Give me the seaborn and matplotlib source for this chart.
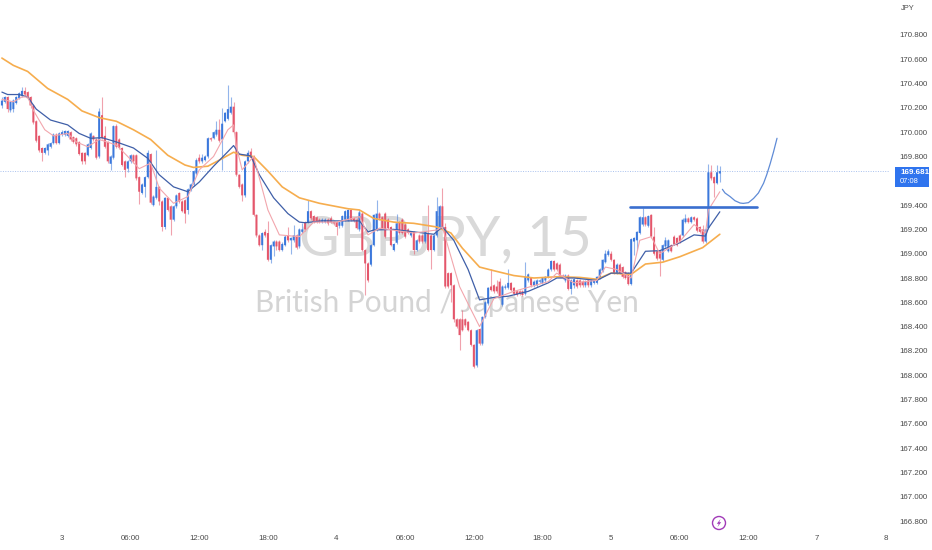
import numpy as np
import pandas as pd
import seaborn as sns
import matplotlib.pyplot as plt
from matplotlib.patches import Ellipse, Polygon, Rectangle

# 15 minute candles
opens = [170.22,170.25,170.29,170.18,170.19,170.24,170.28,170.30,170.34,170.33,
         170.29,170.22,170.09,169.97,169.87,169.83,169.85,169.88,169.91,169.98,
         169.91,169.98,169.98,169.97,170.00,169.96,169.95,169.92,169.83,169.83,
         169.81,169.87,169.97,169.94,169.80,170.14,169.97,169.92,169.74,169.79,
         170.05,169.94,169.87,169.76,169.70,169.76,169.81,169.81,169.63,169.50,
         169.55,169.63,169.82,169.40,169.46,169.55,169.43,169.22,169.46,169.39,
         169.28,169.39,169.50,169.43,169.44,169.36,169.53,169.57,169.66,169.79,
         169.76,169.77,169.80,169.95,169.95,169.98,170.02,169.94,170.09,170.11,
         170.16,170.21,170.00,169.65,169.57,169.48,169.76,169.84,169.80,169.32,
         169.15,169.07,169.18,169.17,168.95,169.06,169.10,169.10,169.03,169.07,
         169.15,169.11,169.11,169.15,169.06,169.18,169.26,169.26,169.35,169.31,
         169.30,169.28,169.26,169.26,169.28,169.29,169.26,169.26,169.23,169.23,
         169.28,169.28,169.36,169.29,169.28,169.20,169.33,169.03,168.92,168.91,
         169.07,169.20,169.33,169.30,169.33,169.28,169.22,169.03,169.09,169.26,
         169.28,169.24,169.20,169.15,169.18,169.03,169.15,169.15,169.10,169.17,
         169.15,169.03,169.15,169.22,169.39,169.22,168.84,168.84,168.74,168.46,
         168.46,168.46,168.46,168.44,168.37,168.25,168.08,168.38,168.26,168.48,
         168.59,168.73,168.74,168.73,168.77,168.58,168.72,168.72,168.76,168.72,
         168.69,168.69,168.69,168.67,168.78,168.80,168.74,168.74,168.77,168.76,
         168.78,168.81,168.87,168.94,168.92,168.91,168.82,168.78,168.82,168.71,
         168.74,168.78,168.78,168.77,168.74,168.78,168.74,168.76,168.76,168.80,
         168.86,168.93,168.99,169.00,168.95,168.84,168.91,168.89,168.85,168.84,
         168.75,169.10,169.11,169.17,169.24,169.30,169.23,169.32,169.14,169.02,
         169.02,168.95,169.06,169.02,169.07,169.14,169.13,169.15,169.15,169.26,
         169.29,169.26,169.30,169.29,169.22,169.20,169.10,169.21,169.67,169.63,169.58,169.66]
closes = [170.26,170.29,170.19,170.25,170.26,170.29,170.32,170.34,170.31,170.28,
          170.22,170.08,169.93,169.85,169.83,169.87,169.90,169.91,169.98,169.91,
          169.99,170.00,170.01,170.01,169.94,169.92,169.90,169.82,169.76,169.76,
          169.90,169.99,169.94,169.79,170.17,169.95,169.88,169.76,169.80,170.05,
          169.88,169.87,169.73,169.69,169.76,169.81,169.76,169.62,169.51,169.57,
          169.63,169.83,169.42,169.47,169.55,169.43,169.22,169.46,169.36,169.28,
          169.39,169.48,169.43,169.35,169.33,169.53,169.57,169.68,169.77,169.76,
          169.79,169.80,169.95,169.94,170.00,170.02,169.93,170.07,170.16,170.19,
          170.21,170.00,169.65,169.55,169.48,169.76,169.83,169.79,169.32,169.15,
          169.07,169.17,169.15,168.95,169.07,169.10,169.06,169.03,169.08,169.14,
          169.11,169.13,169.15,169.05,169.20,169.20,169.20,169.35,169.29,169.26,
          169.26,169.26,169.28,169.28,169.25,169.26,169.25,169.22,169.26,169.31,
          169.35,169.36,169.28,169.27,169.21,169.34,169.03,168.92,168.78,169.07,
          169.32,169.33,169.29,169.21,169.14,169.21,169.07,169.08,169.25,169.17,
          169.17,169.14,169.17,169.18,169.03,169.11,169.10,169.10,169.18,169.03,
          169.03,169.15,169.35,169.39,169.22,168.73,168.73,168.74,168.46,168.40,
          168.33,168.37,168.41,168.37,168.25,168.07,168.37,168.26,168.48,168.60,
          168.72,168.70,168.69,168.69,168.65,168.73,168.73,168.76,168.70,168.67,
          168.66,168.67,168.66,168.81,168.83,168.74,168.77,168.78,168.78,168.80,
          168.81,168.87,168.94,168.87,168.87,168.82,168.80,168.82,168.71,168.78,
          168.79,168.73,168.74,168.74,168.77,168.74,168.78,168.78,168.81,168.87,
          168.95,169.00,169.02,168.95,168.84,168.91,168.84,168.81,168.80,168.75,
          169.12,169.13,169.18,169.30,169.30,169.24,169.31,169.14,169.00,168.96,
          168.96,169.07,169.11,169.11,169.02,169.08,169.07,169.10,169.28,169.29,
          169.26,169.30,169.28,169.19,169.18,169.10,169.20,169.67,169.62,169.58,169.67,169.68]
highs = [170.29,170.30,170.30,170.26,170.27,170.30,170.33,170.37,170.37,170.34,
         170.30,170.23,170.10,169.98,169.88,169.88,169.91,169.92,169.99,169.99,
         170.00,170.02,170.02,170.02,170.01,169.97,169.96,169.93,169.84,169.84,
         169.91,170.00,169.98,169.95,170.20,170.29,170.05,169.93,169.81,170.06,
         170.07,169.95,169.88,169.77,169.77,169.82,169.82,169.82,169.64,169.58,
         169.64,169.85,169.83,169.48,169.85,169.56,169.44,169.47,169.47,169.40,
         169.40,169.49,169.51,169.44,169.45,169.54,169.58,169.69,169.79,169.82,
         169.82,169.81,169.96,169.96,170.01,170.09,170.11,170.20,170.17,170.39,
         170.29,170.25,170.01,169.66,169.58,169.77,169.85,169.87,169.81,169.33,
         169.16,169.18,169.20,169.27,169.08,169.11,169.11,169.11,169.10,169.15,
         169.22,169.14,169.24,169.16,169.21,169.25,169.27,169.44,169.36,169.32,
         169.31,169.29,169.29,169.29,169.29,169.31,169.27,169.27,169.27,169.32,
         169.36,169.37,169.37,169.30,169.29,169.36,169.34,169.04,168.93,169.08,
         169.33,169.44,169.34,169.31,169.34,169.29,169.23,169.09,169.33,169.27,
         169.29,169.25,169.21,169.19,169.19,169.12,169.16,169.16,169.19,169.40,
         169.16,169.16,169.47,169.40,169.54,169.25,168.85,168.85,168.75,168.47,
         168.47,168.54,168.47,168.45,168.38,168.26,168.38,168.39,168.49,168.61,
         168.73,168.87,168.75,168.78,168.80,168.74,168.75,168.87,168.77,168.73,
         168.70,168.70,168.70,168.93,168.84,168.81,168.78,168.79,168.79,168.81,
         168.82,168.88,168.95,168.95,168.93,168.92,168.83,168.83,168.83,168.79,
         168.80,168.79,168.79,168.78,168.78,168.79,168.79,168.79,168.82,168.88,
         168.96,169.03,169.04,169.02,168.96,168.92,168.92,168.90,168.86,168.85,
         169.13,169.14,169.19,169.31,169.38,169.31,169.32,169.33,169.22,169.03,
         169.03,169.08,169.14,169.12,169.08,169.15,169.14,169.16,169.29,169.33,
         169.30,169.31,169.31,169.30,169.23,169.24,169.21,169.74,169.73,169.64,169.73,169.72]
lows = [170.20,170.24,170.17,170.17,170.17,170.23,170.27,170.29,170.30,170.27,
        170.20,170.07,169.92,169.84,169.76,169.82,169.81,169.87,169.90,169.90,
        169.90,169.97,169.97,169.96,169.93,169.91,169.89,169.81,169.74,169.74,
        169.80,169.86,169.93,169.78,169.79,169.94,169.87,169.75,169.69,169.78,
        169.87,169.86,169.72,169.63,169.67,169.75,169.75,169.61,169.41,169.49,
        169.47,169.62,169.41,169.39,169.45,169.40,169.19,169.20,169.35,169.15,
        169.27,169.38,169.42,169.34,169.25,169.33,169.52,169.56,169.65,169.75,
        169.75,169.76,169.79,169.93,169.94,169.97,169.92,169.69,170.08,170.10,
        170.15,169.99,169.64,169.54,169.43,169.47,169.75,169.78,169.31,169.14,
        169.06,169.03,169.14,168.94,168.92,168.98,169.03,169.02,169.02,169.06,
        169.10,169.00,169.10,169.04,169.05,169.17,169.19,169.25,169.28,169.25,
        169.25,169.25,169.25,169.25,169.24,169.25,169.24,169.15,169.21,169.22,
        169.27,169.27,169.27,169.26,169.20,169.19,169.02,168.66,168.77,168.90,
        169.06,169.19,169.28,169.20,169.13,169.20,169.06,169.02,169.08,169.16,
        169.16,169.13,169.16,169.14,169.00,169.02,169.09,169.09,169.09,169.02,
        168.87,169.02,169.14,169.21,169.21,168.72,168.72,168.60,168.44,168.39,
        168.21,168.36,168.40,168.36,168.24,168.06,168.07,168.25,168.25,168.47,
        168.58,168.69,168.68,168.68,168.64,168.57,168.71,168.71,168.69,168.66,
        168.65,168.66,168.65,168.66,168.77,168.73,168.73,168.73,168.76,168.75,
        168.77,168.80,168.86,168.86,168.86,168.81,168.79,168.77,168.70,168.67,
        168.72,168.72,168.73,168.73,168.73,168.73,168.73,168.75,168.75,168.79,
        168.85,168.92,168.98,168.94,168.83,168.83,168.83,168.80,168.79,168.74,
        168.74,168.99,169.03,169.16,169.23,169.23,169.22,169.13,168.99,168.95,
        168.82,168.94,169.05,169.01,169.01,169.07,169.06,169.09,169.14,169.25,
        169.25,169.25,169.27,169.18,169.17,169.09,169.09,169.20,169.61,169.47,169.57,169.59]

# moving averages
slow_bar = [0,4,9,16,23,28,34,40,46,52,58,64,67,72,76,81,84,88,93,98,104,111,121,125,130,137,144,152,157,161,167,172,179,186,194,202,208,213,220,225,231,237,245,251]
slow_val = [170.61,170.55,170.50,170.36,170.27,170.175,170.12,170.09,170.02,169.94,169.81,169.73,169.71,169.72,169.77,169.835,169.81,169.80,169.68,169.55,169.46,169.415,169.37,169.36,169.29,169.26,169.25,169.22,169.17,169.045,168.89,168.86,168.82,168.80,168.81,168.805,168.79,168.84,168.83,168.915,168.93,168.975,169.05,169.16]
mid_bar = [0,2,6,9,12,17,23,27,31,35,40,46,51,55,60,65,69,74,79,81,83,87,90,95,100,104,106,112,119,125,128,130,137,144,151,154,158,163,167,172,177,184,191,194,200,208,213,220,225,230,237,242,246,247,251]
mid_val = [170.33,170.31,170.31,170.29,170.19,170.10,170.06,169.99,169.95,169.955,169.92,169.87,169.785,169.65,169.55,169.51,169.59,169.72,169.84,169.89,169.82,169.805,169.65,169.46,169.33,169.26,169.255,169.27,169.27,169.27,169.18,169.195,169.20,169.18,169.16,169.22,169.11,168.87,168.62,168.64,168.65,168.69,168.76,168.80,168.80,168.78,168.84,168.84,169.02,169.025,169.09,169.155,169.145,169.21,169.345]
fast_bar = [0,4,7,9,11,15,18,23,26,30,34,40,44,48,52,55,60,65,69,74,79,81,82,84,88,93,97,104,109,117,125,128,132,144,152,154,160,164,167,172,179,191,194,200,208,211,215,220,223,227,230,237,242,246,247,251]
fast_val = [170.27,170.25,170.29,170.29,170.18,170.02,169.97,169.99,169.92,169.88,169.94,169.895,169.80,169.70,169.745,169.54,169.415,169.47,169.69,169.80,170.02,170.06,169.88,169.69,169.80,169.36,169.155,169.14,169.26,169.26,169.305,169.155,169.21,169.17,169.195,169.22,168.73,168.54,168.40,168.63,168.69,168.77,168.84,168.76,168.78,168.89,168.87,168.80,169.11,169.14,169.00,169.10,169.24,169.17,169.36,169.51]

# hand drawn level and forecast curve
level_bar = [219.6, 264]
level_val = [169.385, 169.385]
curve_bar = [251.9,252.8,254.6,256.3,258.1,259.2,261.0,262.8,264.5,266.3,267.4,268.6,269.8,271.0]
curve_val = [169.53,169.50,169.47,169.436,169.417,169.414,169.42,169.455,169.50,169.58,169.65,169.74,169.84,169.95]
last_price = 169.681

price_ticks = [170.8,170.6,170.4,170.2,170.0,169.8,169.4,169.2,169.0,168.8,168.6,168.4,168.2,168.0,167.8,167.6,167.4,167.2,167.0,166.8]
time_ticks = [21,45,69,93,117,141,165,189,213,237,261,285,309]
time_labels = ["3","06:00","12:00","18:00","4","06:00","12:00","18:00","5","06:00","12:00","7","8"]

BLUE = "#3b78dc"
RED = "#e4566b"
W, H = 932, 550

sns.set_theme(style="white")
plt.rcParams['font.family'] = ['Liberation Sans', 'DejaVu Sans']

fig = plt.figure(figsize=(W / 100, H / 100), dpi=100, facecolor="white")
ax = fig.add_axes([0, 1 - 530 / H, 890 / W, 530 / H])

candles = pd.DataFrame({"open": opens, "close": closes, "high": highs, "low": lows})
candles["bar"] = np.arange(len(candles))
candles["color"] = np.where(candles["close"] >= candles["open"], BLUE, RED)

# watermark goes under everything
fig.text(445.5 / W, 1 - 240 / H, "GBPJPY, 15", fontsize=40, color="#d9d9d9", ha="center", va="center", zorder=-1, family=["Lato"])
fig.text(447 / W, 1 - 303 / H, "British Pound / Japanese Yen", fontsize=21.4, color="#d4d4d4", ha="center", va="center", zorder=-1, family=["Lato"])
ax.patch.set_alpha(0)

ax.vlines(candles["bar"], candles["low"], candles["high"], colors=candles["color"], linewidth=0.8, alpha=0.55, zorder=2)
bodies = ax.bar(candles["bar"], (candles["close"] - candles["open"]).abs(), bottom=candles[["open", "close"]].min(axis=1),
                width=0.7, color=candles["color"], linewidth=0, zorder=3)
for body in bodies:
    body.set_snap(False)

sns.lineplot(x=slow_bar, y=slow_val, ax=ax, color="#f6ad4e", linewidth=1.2, errorbar=None, zorder=4)
sns.lineplot(x=mid_bar, y=mid_val, ax=ax, color="#3f5fa8", linewidth=0.9, errorbar=None, zorder=4)
sns.lineplot(x=fast_bar, y=fast_val, ax=ax, color="#f2a6ad", linewidth=0.8, errorbar=None, zorder=4)
sns.lineplot(x=level_bar, y=level_val, ax=ax, color="#3a6fcf", linewidth=1.9, errorbar=None, zorder=5)
sns.lineplot(x=curve_bar, y=curve_val, ax=ax, color="#5f8bd6", linewidth=0.9, errorbar=None, zorder=5)

ax.axhline(last_price, color="#a9c1ee", linewidth=0.7, linestyle=(0, (1, 1.5)), zorder=1)

ax.set_xlim(-0.664, 310.5)
ax.set_ylim(166.726, 171.088)
ax.yaxis.tick_right()
ax.set_yticks(price_ticks)
ax.set_yticklabels([f"{p:.3f}" for p in price_ticks])
ax.set_xticks(time_ticks)
ax.set_xticklabels(time_labels)
ax.tick_params(axis="y", length=0, pad=7, labelsize=5.7, labelcolor="#4a4a4a")
ax.tick_params(axis="x", length=0, pad=3.5, labelsize=5.7, labelcolor="#4a4a4a")
sns.despine(ax=ax, left=True, bottom=True, right=True, top=True)
ax.set_xlabel("")
ax.set_ylabel("")

fig.text(901 / W, 1 - 8 / H, "JPY", fontsize=5.4, color="#4a4a4a", va="center", ha="left")

# last price tag
fig.add_artist(Rectangle((895 / W, 1 - 187 / H), 34 / W, 20 / H, transform=fig.transFigure, color="#2f74ee", linewidth=0))
fig.text(900 / W, 1 - 172.5 / H, "169.681", fontsize=5.8, color="white", va="center", ha="left", fontweight="bold")
fig.text(900 / W, 1 - 181.5 / H, "07:08", fontsize=5.4, color="white", va="center", ha="left")

# purple lightning badge
badge_x, badge_y = 719, 523
fig.add_artist(Ellipse((badge_x / W, 1 - badge_y / H), 13 / W, 13 / H, transform=fig.transFigure, fill=False, edgecolor="#a13bb8", linewidth=1.0))
bolt = [(1.5, -4), (-2.2, 0.8), (-0.2, 0.8), (-1.5, 4), (2.2, -0.8), (0.2, -0.8)]
fig.add_artist(Polygon([((badge_x + dx) / W, 1 - (badge_y + dy) / H) for dx, dy in bolt], transform=fig.transFigure, color="#a13bb8", linewidth=0))

fig.savefig("out.png", dpi=100, facecolor="white")
